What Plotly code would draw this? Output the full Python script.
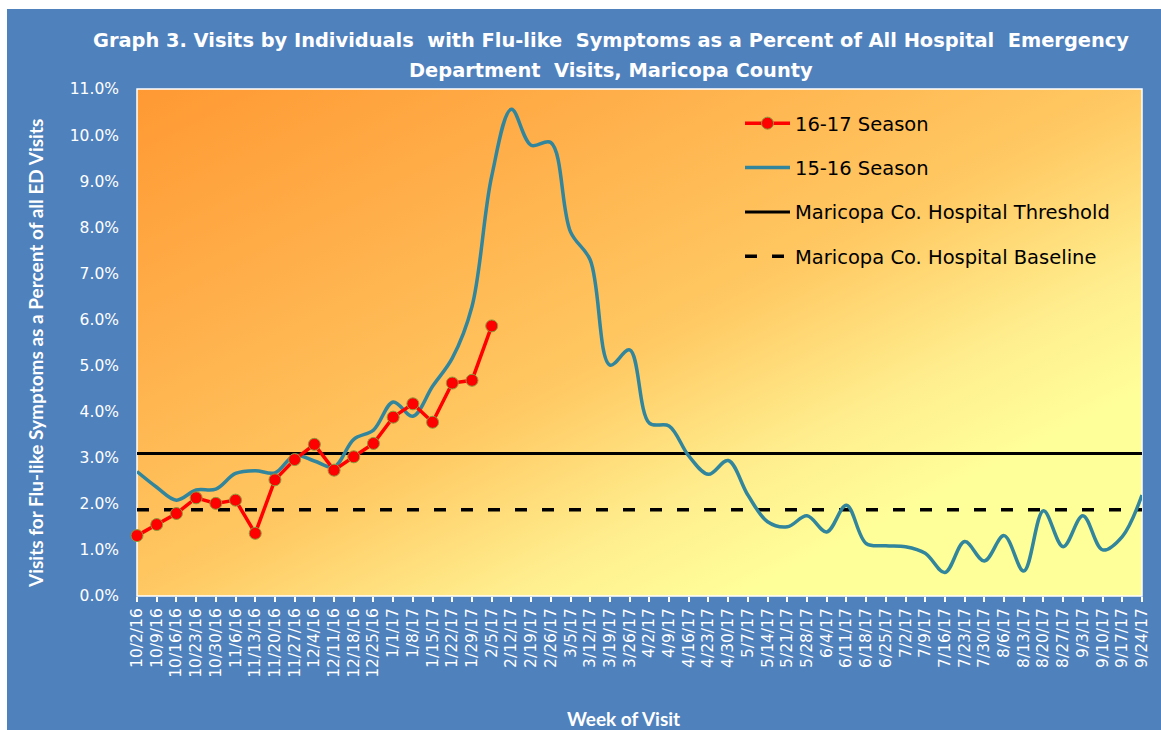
import base64
import plotly.graph_objects as go

# ---------------- data ----------------
weeks = ["10/2/16", "10/9/16", "10/16/16", "10/23/16", "10/30/16", "11/6/16", "11/13/16",
         "11/20/16", "11/27/16", "12/4/16", "12/11/16", "12/18/16", "12/25/16", "1/1/17",
         "1/8/17", "1/15/17", "1/22/17", "1/29/17", "2/5/17", "2/12/17", "2/19/17", "2/26/17",
         "3/5/17", "3/12/17", "3/19/17", "3/26/17", "4/2/17", "4/9/17", "4/16/17", "4/23/17",
         "4/30/17", "5/7/17", "5/14/17", "5/21/17", "5/28/17", "6/4/17", "6/11/17", "6/18/17",
         "6/25/17", "7/2/17", "7/9/17", "7/16/17", "7/23/17", "7/30/17", "8/6/17", "8/13/17",
         "8/20/17", "8/27/17", "9/3/17", "9/10/17", "9/17/17", "9/24/17"]

season_16_17 = [1.31, 1.55, 1.79, 2.13, 2.01, 2.08, 1.36, 2.52, 2.96, 3.29, 2.73, 3.02, 3.31,
                3.88, 4.17, 3.77, 4.62, 4.68, 5.86]

season_15_16 = [2.70, 2.36, 2.08, 2.30, 2.32, 2.66, 2.72, 2.67, 3.05, 2.93, 2.80, 3.40, 3.60,
                4.21, 3.90, 4.55, 5.16, 6.28, 9.11, 10.56, 9.78, 9.84, 7.90, 7.29, 5.01, 5.34,
                3.75, 3.69, 3.04, 2.64, 2.94, 2.19, 1.61, 1.50, 1.74, 1.39, 1.97, 1.14, 1.09,
                1.07, 0.93, 0.51, 1.18, 0.76, 1.31, 0.54, 1.85, 1.07, 1.74, 1.00, 1.29, 2.19]

threshold_value = 3.09
baseline_value = 1.87

y_ticks = [0, 1, 2, 3, 4, 5, 6, 7, 8, 9, 10, 11]
y_tick_labels = ["0.0%", "1.0%", "2.0%", "3.0%", "4.0%", "5.0%", "6.0%", "7.0%", "8.0%",
                 "9.0%", "10.0%", "11.0%"]

# ---------------- layout geometry ----------------
W, H = 1161, 730
L, R, T, B = 137, 19, 89, 134
PW, PH = W - L - R, H - T - B


def px_x(px):
    return (px - L) / PW


def px_y(py):
    return (H - B - py) / PH


idx = list(range(len(weeks)))
first, last = idx[0], idx[-1]

fig = go.Figure()

fig.add_trace(go.Scatter(
    x=[first, last], y=[threshold_value, threshold_value], mode="lines",
    name="Maricopa Co. Hospital Threshold", legendrank=3, legendgroup="c",
    line=dict(color="black", width=3), hoverinfo="skip"))
fig.add_trace(go.Scatter(
    x=[first, last], y=[baseline_value, baseline_value], mode="lines",
    name="Maricopa Co. Hospital Baseline", legendrank=4, legendgroup="d",
    line=dict(color="black", width=3.5, dash="12px,15px"), hoverinfo="skip"))
fig.add_trace(go.Scatter(
    x=idx, y=season_15_16, mode="lines", name="15-16 Season", legendrank=2,
    legendgroup="b",
    line=dict(color="#31859C", width=3.5, shape="spline", smoothing=1.0)))
fig.add_trace(go.Scatter(
    x=idx[:len(season_16_17)], y=season_16_17, mode="lines+markers", name="16-17 Season",
    legendrank=1, legendgroup="a", cliponaxis=False,
    line=dict(color="#FF0000", width=3.5),
    marker=dict(color="#FF0000", size=12, line=dict(color="#8C9A3C", width=1))))

# gradient for plot area
svg = (
    '<svg xmlns="http://www.w3.org/2000/svg" width="1005" height="507" '
    'viewBox="0 0 1005 507" preserveAspectRatio="none">'
    '<defs><linearGradient id="g" x1="0" y1="0" x2="1" y2="1">'
    '<stop offset="0" stop-color="#FF9933"/>'
    '<stop offset="0.25" stop-color="#FFAF4A"/>'
    '<stop offset="0.5" stop-color="#FFC862"/>'
    '<stop offset="0.68" stop-color="#FFEE8E"/>'
    '<stop offset="0.8" stop-color="#FFFF99"/>'
    '<stop offset="1" stop-color="#FFFF99"/>'
    '</linearGradient></defs>'
    '<rect x="0" y="0" width="1005" height="507" fill="url(#g)"/></svg>'
)
src = "data:image/svg+xml;base64," + base64.b64encode(svg.encode()).decode()

fig.update_layout(
    width=W, height=H,
    margin=dict(l=L, r=R, t=T, b=B, autoexpand=False),
    paper_bgcolor="#4F81BD",
    plot_bgcolor="rgba(0,0,0,0)",
    images=[dict(source=src, xref="paper", yref="paper", x=0, y=1, sizex=1, sizey=1,
                 xanchor="left", yanchor="top", sizing="stretch", layer="below")],
    shapes=[
        dict(type="rect", xref="paper", yref="paper", x0=0, x1=1, y0=0, y1=1,
             line=dict(color="white", width=1.5), layer="below"),
        dict(type="rect", xref="paper", yref="paper", x0=px_x(-20), x1=px_x(W + 20),
             y0=px_y(9), y1=px_y(-20), fillcolor="white", line=dict(width=0), layer="below"),
        dict(type="rect", xref="paper", yref="paper", x0=px_x(-20), x1=px_x(7),
             y0=px_y(H + 20), y1=px_y(-20), fillcolor="white", line=dict(width=0),
             layer="below"),
    ],
    showlegend=True,
    legend=dict(x=px_x(740), y=px_y(104), xanchor="left", yanchor="top",
                bgcolor="rgba(0,0,0,0)", traceorder="grouped", tracegroupgap=16,
                itemwidth=45,
                font=dict(family="DejaVu Sans", size=19.5, color="black")),
    xaxis=dict(range=[first, last], tickmode="array", tickvals=idx, ticktext=weeks,
               tickangle=-90, ticks="outside", ticklen=5, tickcolor="white", tickwidth=1.5,
               showgrid=False, zeroline=False, showline=False, automargin=False,
               tickfont=dict(family="DejaVu Sans", size=15.5, color="white")),
    yaxis=dict(range=[0, 11], tickmode="array", tickvals=y_ticks, ticktext=y_tick_labels,
               showgrid=False, zeroline=False, showline=False,
               ticks="", ticklabelstandoff=17, automargin=False,
               tickfont=dict(family="DejaVu Sans", size=15.5, color="white")),
    annotations=[
        dict(text="<b>Graph 3. Visits by Individuals  with Flu-like  Symptoms as a Percent of All Hospital  Emergency</b>",
             xref="paper", yref="paper", x=px_x(611), y=px_y(41), showarrow=False,
             xanchor="center", yanchor="middle",
             font=dict(family="DejaVu Sans", size=19.4, color="white")),
        dict(text="<b>Department  Visits, Maricopa County</b>",
             xref="paper", yref="paper", x=px_x(611), y=px_y(70), showarrow=False,
             xanchor="center", yanchor="middle",
             font=dict(family="DejaVu Sans", size=19.4, color="white")),
        dict(text="<b>Visits for Flu-like Symptoms as a Percent of all ED Visits</b>",
             xref="paper", yref="paper", x=px_x(35), y=px_y(354), showarrow=False,
             textangle=-90, xanchor="center", yanchor="middle",
             font=dict(family="Lato", size=19, color="white")),
        dict(text="<b>Week of Visit</b>",
             xref="paper", yref="paper", x=px_x(623), y=px_y(718), showarrow=False,
             xanchor="center", yanchor="middle",
             font=dict(family="Lato", size=19, color="white")),
    ],
)

fig.write_html("out.html", config={"displayModeBar": False})

# remove the default page margin so the figure sits at the window origin
with open("out.html", "r", encoding="utf-8") as f:
    html = f.read()
html = html.replace("<body>", '<body style="margin:0;padding:0;overflow:hidden">', 1)
with open("out.html", "w", encoding="utf-8") as f:
    f.write(html)
